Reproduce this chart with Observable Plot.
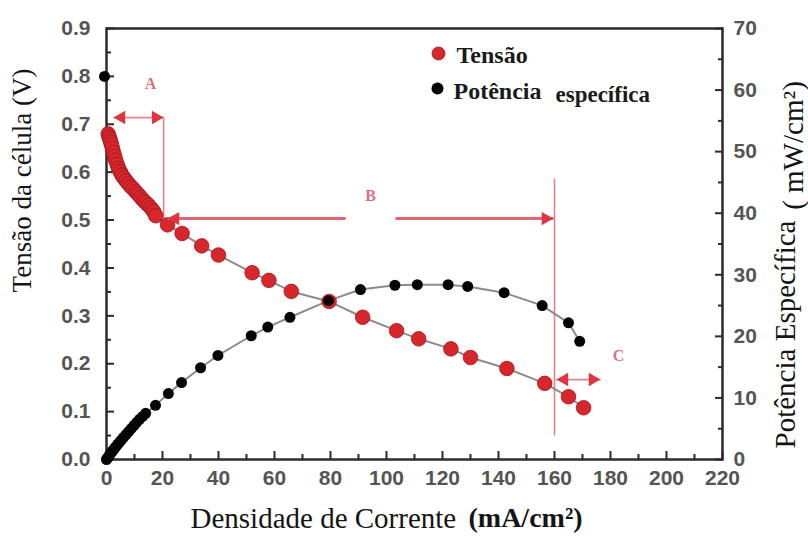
<!DOCTYPE html>
<html>
<head>
<meta charset="utf-8">
<script src="https://cdn.jsdelivr.net/npm/d3@7"></script>
<script src="https://cdn.jsdelivr.net/npm/@observablehq/plot@0.6"></script>
<style>
  html, body { margin: 0; padding: 0; background: #fff; }
</style>
</head>
<body>
<div id="chart"></div>
<script>
// Curva de polarização: tensão da célula e potência específica vs densidade de corrente
const currentV = [0.6, 0.9, 1.2, 1.5, 1.8, 2.1, 2.5, 2.9, 3.3, 3.8, 4.3, 4.9, 5.5, 6.2, 7.0, 7.8, 8.7, 9.6, 10.5, 11.4, 12.3, 13.2, 14.1, 15.0, 15.9, 16.8, 17.6,
                  21.8, 27.0, 34.0, 40.0, 52.0, 58.0, 66.0, 79.5, 91.5, 103.6, 111.5, 123.0, 130.0, 143.0, 156.5, 165.0, 170.4];
const voltage  = [0.680, 0.674, 0.669, 0.663, 0.657, 0.650, 0.641, 0.633, 0.625, 0.616, 0.608, 0.601, 0.594, 0.588, 0.582, 0.576, 0.570, 0.565, 0.559, 0.553, 0.547, 0.541, 0.536, 0.531, 0.525, 0.518, 0.509,
                  0.490, 0.472, 0.446, 0.427, 0.390, 0.374, 0.351, 0.330, 0.297, 0.269, 0.252, 0.231, 0.213, 0.190, 0.159, 0.131, 0.108];

const currentP = [0, 0.2, 0.4, 0.7, 1.0, 1.3, 1.7, 2.1, 2.5, 3.0, 3.5, 4.1, 4.7, 5.4, 6.2, 7.0, 7.9, 8.8, 9.8, 10.8, 11.8, 12.9, 14.0,
                  17.5, 22.1, 26.8, 33.6, 39.8, 51.7, 57.6, 65.5, 79.3, 90.7, 103.0, 111.0, 122.0, 129.0, 142.0, 155.6, 165.0, 169.0];
const power    = [0, 0.14, 0.27, 0.48, 0.68, 0.87, 1.12, 1.37, 1.60, 1.89, 2.17, 2.5, 2.83, 3.22, 3.65, 4.07, 4.53, 5.0, 5.52, 6.04, 6.53, 7.0, 7.5,
                  8.8, 10.7, 12.5, 14.9, 16.9, 20.1, 21.5, 23.1, 25.8, 27.6, 28.3, 28.4, 28.4, 28.1, 27.1, 25.0, 22.2, 19.2];

// Ponto isolado de circuito aberto
const openCircuitCurrent = [0];
const openCircuitVoltage = [0.8];

// Escalas dos eixos
const xTicks = d3.range(0, 221, 20);
const xMinor = d3.range(10, 220, 20);
const yTicks = d3.range(0, 10).map(i => i / 10);
const yMinor = d3.range(0, 9).map(i => i / 10 + 0.05);
const pTicks = d3.range(0, 71, 10);
const pMinor = d3.range(5, 70, 10);

const vMax = 0.9, pMax = 70;
const toV = p => p * vMax / pMax;   // potência -> eixo da tensão

// Regiões A, B, C (setas e linhas de separação)
const regionLabels = ["A", "B", "C"];
const regionLabelCurrent = [15.7, 94.3, 182.9];
const regionLabelVoltage = [0.785, 0.551, 0.217];

const boundaryCurrent = [20.4, 160];
const boundaryTop = [0.714, 0.587];
const boundaryBottom = [0.503, 0.05];

const arrowA = {from: 2.5, to: 20.4, level: 0.714};
const arrowB = {from: 21.8, gapFrom: 85.4, gapTo: 103.2, to: 159.6, level: 0.503};
const arrowC = {from: 160.7, to: 176.4, level: 0.167};

const seriesV = currentV.map((c, i) => ({current: c, voltage: voltage[i]}));
const seriesP = currentP.map((c, i) => ({current: c, voltage: toV(power[i])}));
const ocv = openCircuitCurrent.map((c, i) => ({current: c, voltage: openCircuitVoltage[i]}));
const labels = regionLabels.map((t, i) => ({t, current: regionLabelCurrent[i], voltage: regionLabelVoltage[i]}));
const boundaries = boundaryCurrent.map((c, i) => ({current: c, top: boundaryTop[i], bottom: boundaryBottom[i]}));

const thinShafts = [
  {x1: arrowA.from, x2: arrowA.to, y: arrowA.level},
  {x1: arrowC.from, x2: arrowC.to, y: arrowC.level}
];
const thickShafts = [
  {x1: arrowB.from, x2: arrowB.gapFrom, y: arrowB.level},
  {x1: arrowB.gapTo, x2: arrowB.to, y: arrowB.level}
];
const headsLeft = [
  {current: arrowA.from, voltage: arrowA.level},
  {current: arrowB.from, voltage: arrowB.level},
  {current: arrowC.from, voltage: arrowC.level}
];
const headsRight = [
  {current: arrowA.to, voltage: arrowA.level},
  {current: arrowB.to, voltage: arrowB.level},
  {current: arrowC.to, voltage: arrowC.level}
];

const RED = "#d7262c";
const RED_EDGE = "#a0181c";
const PINK = "#e6818c";
const ARROW = "#de3540";
const headR = 5;
const headOffset = 1.555 * headR;

const tickFont = {fontSize: 21, fontWeight: "bold", fontFamily: "Liberation Sans, Arial, sans-serif", fill: "#555"};
const serif = "Liberation Serif, Times New Roman, serif";

const chart = Plot.plot({
  width: 808,
  height: 538,
  marginLeft: 106,
  marginRight: 86,
  marginTop: 28,
  marginBottom: 79,
  style: {background: "#fff", overflow: "visible"},
  x: {domain: [0, 220]},
  y: {domain: [0, vMax]},
  marks: [
    // moldura e eixos
    Plot.frame({stroke: "#2b2b2b", strokeWidth: 2.5}),
    Plot.axisX({ticks: xTicks, tickSize: 0, tickPadding: 11, label: null, ...tickFont}),
    Plot.axisX({ticks: xTicks, tickSize: -8, tickFormat: () => "", label: null, stroke: "#2b2b2b", strokeWidth: 2}),
    Plot.axisX({ticks: xMinor, tickSize: -5, tickFormat: () => "", label: null, stroke: "#2b2b2b", strokeWidth: 2}),
    Plot.axisY({ticks: yTicks, tickSize: 0, tickPadding: 16, tickFormat: d3.format(".1f"), label: null, ...tickFont}),
    Plot.axisY({ticks: yTicks, tickSize: -8, tickFormat: () => "", label: null, stroke: "#2b2b2b", strokeWidth: 2}),
    Plot.axisY({ticks: yMinor, tickSize: -5, tickFormat: () => "", label: null, stroke: "#2b2b2b", strokeWidth: 2}),
    Plot.axisY({anchor: "right", ticks: pTicks.map(toV), tickSize: 0, tickPadding: 11, tickFormat: v => d3.format("d")(Math.round(v * pMax / vMax)), label: null, textAnchor: "start", ...tickFont}),
    Plot.axisY({anchor: "right", ticks: pTicks.map(toV), tickSize: -8, tickFormat: () => "", label: null, stroke: "#2b2b2b", strokeWidth: 2}),
    Plot.axisY({anchor: "right", ticks: pMinor.map(toV), tickSize: -5, tickFormat: () => "", label: null, stroke: "#2b2b2b", strokeWidth: 2}),

    // títulos dos eixos
    Plot.text(["Tensão da célula (V)"], {frameAnchor: "top-left", dx: -84, dy: 152, rotate: -90, textAnchor: "middle", lineAnchor: "middle", fontSize: 27, fontFamily: serif, fill: "#151515"}),
    Plot.text(["Potência Específica"], {frameAnchor: "top-right", dx: 63, dy: 306, rotate: -90, textAnchor: "middle", lineAnchor: "middle", fontSize: 29, fontFamily: serif, fill: "#151515"}),
    Plot.text(["( mW/cm²)"], {frameAnchor: "top-right", dx: 71, dy: 117, rotate: -90, textAnchor: "middle", lineAnchor: "middle", fontSize: 29, fontFamily: serif, fill: "#151515"}),
    Plot.text(["Densidade de Corrente"], {frameAnchor: "bottom-left", dx: 84, dy: 59, textAnchor: "start", lineAnchor: "middle", fontSize: 29, fontFamily: serif, fill: "#151515"}),
    Plot.text(["(mA/cm²)"], {frameAnchor: "bottom-left", dx: 362, dy: 59, textAnchor: "start", lineAnchor: "middle", fontSize: 28, fontWeight: "bold", fontFamily: serif, fill: "#151515"}),

    // linhas de separação das regiões
    Plot.link(boundaries, {x1: "current", x2: "current", y1: "top", y2: "bottom", stroke: PINK, strokeWidth: 1.6}),

    // curvas
    Plot.line(seriesV, {x: "current", y: "voltage", stroke: "#8c8c8c", strokeWidth: 2}),
    Plot.line(seriesP, {x: "current", y: "voltage", stroke: "#8c8c8c", strokeWidth: 2}),
    Plot.dot(seriesV, {x: "current", y: "voltage", r: 7.3, fill: RED, stroke: RED_EDGE, strokeWidth: 0.8}),
    Plot.dot(seriesP, {x: "current", y: "voltage", r: 5.5, fill: "#050505"}),
    Plot.dot(ocv, {x: "current", y: "voltage", r: 5.5, fill: "#050505", dx: -2}),

    // setas A, B, C
    Plot.link(thinShafts, {x1: "x1", x2: "x2", y1: "y", y2: "y", stroke: PINK, strokeWidth: 1.8}),
    Plot.link(thickShafts, {x1: "x1", x2: "x2", y1: "y", y2: "y", stroke: "#e36470", strokeWidth: 3}),
    Plot.dot(headsLeft, {x: "current", y: "voltage", symbol: "triangle", rotate: -90, r: headR, dx: headOffset, fill: ARROW}),
    Plot.dot(headsRight, {x: "current", y: "voltage", symbol: "triangle", rotate: 90, r: headR, dx: -headOffset, fill: ARROW}),
    Plot.text(labels, {x: "current", y: "voltage", text: "t", fontSize: 16, fontWeight: "bold", fontFamily: serif, fill: "#df6f7c"}),

    // legenda
    Plot.dot([0], {frameAnchor: "top-left", dx: 332, dy: 25, r: 6.5, fill: RED, stroke: RED_EDGE, strokeWidth: 0.8}),
    Plot.dot([0], {frameAnchor: "top-left", dx: 331, dy: 60, r: 6, fill: "#050505"}),
    Plot.text(["Tensão"], {frameAnchor: "top-left", dx: 350, dy: 27, textAnchor: "start", lineAnchor: "middle", fontSize: 24, fontWeight: "bold", fontFamily: serif, fill: "#1a1a1a"}),
    Plot.text(["Potência"], {frameAnchor: "top-left", dx: 347, dy: 63, textAnchor: "start", lineAnchor: "middle", fontSize: 24, fontWeight: "bold", fontFamily: serif, fill: "#1a1a1a"}),
    Plot.text(["específica"], {frameAnchor: "top-left", dx: 449, dy: 66, textAnchor: "start", lineAnchor: "middle", fontSize: 23, fontWeight: "bold", fontFamily: serif, fill: "#1a1a1a"})
  ]
});

document.getElementById("chart").appendChild(chart);
</script>
</body>
</html>
